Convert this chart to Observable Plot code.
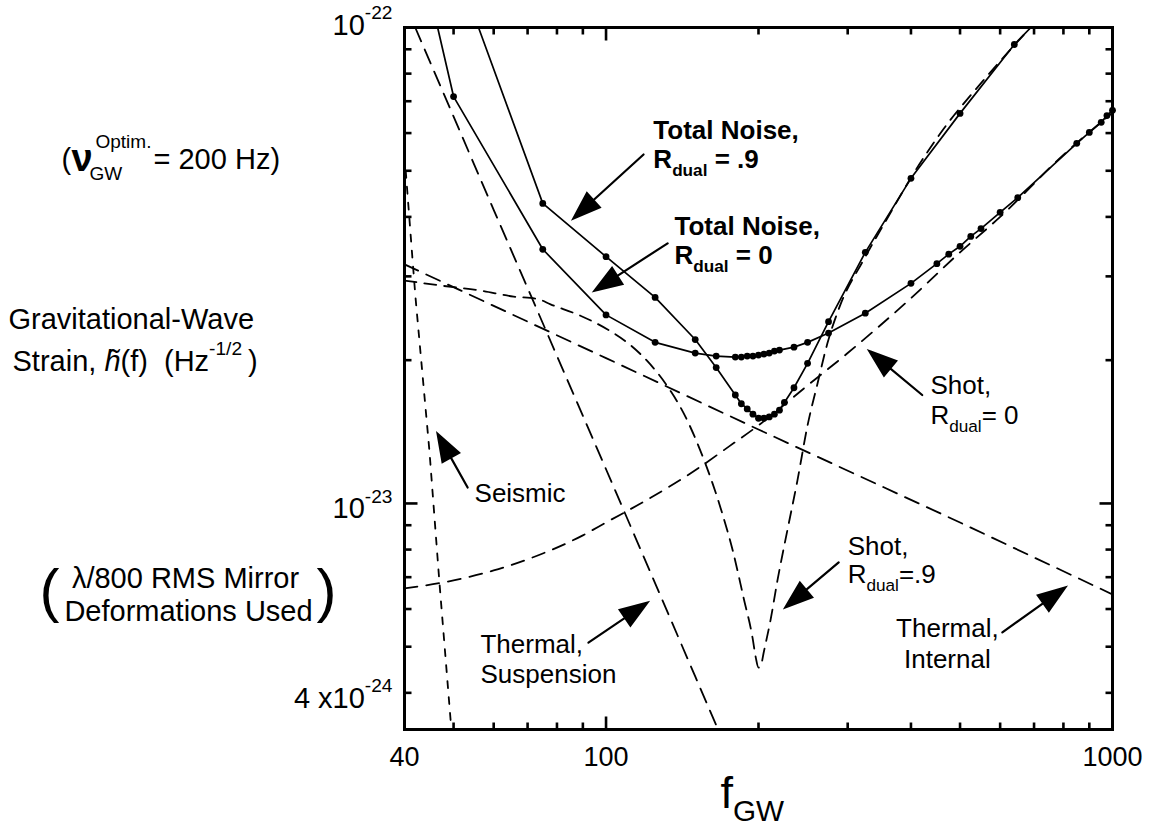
<!DOCTYPE html>
<html><head><meta charset="utf-8">
<script src="https://cdn.jsdelivr.net/npm/d3@7"></script>
<script src="https://cdn.jsdelivr.net/npm/@observablehq/plot@0.6"></script>
<style>html,body{margin:0;padding:0;background:#fff;}</style>
</head><body>
<div id="chart"></div>
<script>
// ---------------- data (frequency in Hz, strain in Hz^-1/2) ----------------
const totalR9Freq   = [56, 75, 100, 125, 150, 165, 180, 185, 190, 195, 200, 205, 210, 215, 220, 225, 235, 250, 275, 325, 400, 500, 640, 690];
const totalR9Strain = [1.0e-22, 4.27e-23, 3.30e-23, 2.71e-23, 2.21e-23, 1.93e-23, 1.69e-23, 1.62e-23, 1.58e-23, 1.54e-23, 1.51e-23, 1.51e-23, 1.52e-23, 1.54e-23, 1.57e-23, 1.63e-23, 1.75e-23, 1.97e-23, 2.41e-23, 3.37e-23, 4.82e-23, 6.60e-23, 9.21e-23, 1.0e-22];

const totalR0Freq   = [46.5, 50, 75, 100, 125, 150, 165, 180, 185, 190, 195, 200, 205, 210, 215, 220, 235, 250, 275, 325, 400, 450, 475, 500, 525, 550, 600, 650, 850, 900, 950, 975, 1000];
const totalR0Strain = [1.0e-22, 7.16e-23, 3.42e-23, 2.49e-23, 2.18e-23, 2.07e-23, 2.04e-23, 2.03e-23, 2.03e-23, 2.04e-23, 2.04e-23, 2.05e-23, 2.06e-23, 2.07e-23, 2.09e-23, 2.10e-23, 2.13e-23, 2.18e-23, 2.28e-23, 2.51e-23, 2.90e-23, 3.19e-23, 3.34e-23, 3.47e-23, 3.64e-23, 3.78e-23, 4.09e-23, 4.39e-23, 5.71e-23, 6.02e-23, 6.32e-23, 6.53e-23, 6.70e-23];

const shotR0Freq   = [40, 50, 60, 75, 90, 100, 120, 150, 175, 200, 250, 300, 400, 500, 600, 800, 1000];
const shotR0Strain = [6.63e-24, 6.89e-24, 7.23e-24, 7.85e-24, 8.57e-24, 9.12e-24, 1.015e-23, 1.174e-23, 1.318e-23, 1.459e-23, 1.77e-23, 2.07e-23, 2.70e-23, 3.37e-23, 4.00e-23, 5.40e-23, 6.62e-23];

const shotR9Freq   = [40, 47.1, 56.5, 65.7, 73.2, 77.7, 89, 100.7, 111.8, 120.7, 132.3, 142.2, 153.6, 168.2, 178.5, 186.8, 194.6, 197.5, 200, 202.5, 204.6, 211.2, 218, 228, 238.7, 250, 261, 273.6, 290, 322, 364, 404.5, 457, 556, 689];
const shotR9Strain = [2.94e-23, 2.87e-23, 2.80e-23, 2.72e-23, 2.69e-23, 2.62e-23, 2.48e-23, 2.32e-23, 2.15e-23, 1.99e-23, 1.76e-23, 1.55e-23, 1.29e-23, 9.81e-24, 7.85e-24, 6.35e-24, 5.23e-24, 4.75e-24, 4.52e-24, 4.59e-24, 4.84e-24, 5.68e-24, 6.89e-24, 8.77e-24, 1.117e-23, 1.46e-23, 1.77e-23, 2.17e-23, 2.61e-23, 3.24e-23, 4.07e-23, 4.93e-23, 5.99e-23, 7.74e-23, 1.0e-22];

const internalFreq   = [40, 100, 200, 500, 1000];
const internalStrain = [3.18e-23, 2.02e-23, 1.43e-23, 9.12e-24, 6.44e-24];

const suspensionFreq   = [42, 60, 100, 150, 166];
const suspensionStrain = [1.0e-22, 4.14e-23, 1.18e-23, 4.33e-24, 3.37e-24];

const seismicFreq   = [40, 41.5, 42.05, 44.8, 46.9, 49.5];
const seismicStrain = [5.4e-23, 3.24e-23, 2.71e-23, 1.29e-23, 6.79e-24, 3.35e-24];

// axis ticks and labels
const xMajorTicks = [100];
const xMinorTicks = [50, 60, 70, 80, 90, 200, 300, 400, 500, 600, 700, 800, 900];
const xTickLabelValues = [40, 100, 1000];
const xTickLabels = ["40", "100", "1000"];
const yMajorTicks = [1e-23];
const yMinorTicks = [4e-24, 5e-24, 6e-24, 7e-24, 8e-24, 9e-24, 2e-23, 3e-23, 4e-23, 5e-23, 6e-23, 7e-23, 8e-23, 9e-23];
const yTickLabelValues = [1e-22, 1e-23, 4e-24];
const yTickLabels = ["10^{-22}", "10^{-23}", "4 x10^{-24}"];

// annotations (text anchored at data coordinates)
const annLines = [
  ["Total Noise,", "R_{dual} = .9"],
  ["Total Noise,", "R_{dual} = 0"],
  ["Shot,", "R_{dual}= 0"],
  ["Shot,", "R_{dual}=.9"],
  ["Thermal,", "Internal"],
  ["Thermal,", "Suspension"],
  ["Seismic"]
];
const annFreq   = [124, 136.5, 437, 300, 472, 56.5, 55.0];
const annStrain = [5.82e-23, 3.66e-23, 1.70e-23, 7.78e-24, 5.23e-24, 4.84e-24, 1.005e-23];

// arrows: tail -> tip
const arrowTailFreq   = [118.6, 132.3, 421, 288, 606, 92.3, 53.3];
const arrowTailStrain = [5.41e-23, 3.52e-23, 1.69e-23, 7.52e-24, 5.36e-24, 5.10e-24, 1.08e-23];
const arrowTipFreq    = [86.2, 94.9, 331, 226, 807, 120.7, 46.5];
const arrowTipStrain  = [3.97e-23, 2.80e-23, 2.09e-23, 6.05e-24, 6.66e-24, 6.19e-24, 1.40e-23];

// ---------------- layout ----------------
const W = 1151, H = 825;
const mL = 404, mR = 39, mT = 27, mB = 96;
const xDomain = [40, 1000], yDomain = [3.35e-24, 1e-22];
const FONT = "'Liberation Sans', Arial, Helvetica, sans-serif";

const rows = (F, S) => F.map((f, i) => ({f, h: S[i]}));
const sx = Plot.scale({x: {type: "log", domain: xDomain, range: [mL, W - mR]}});
const sy = Plot.scale({y: {type: "log", domain: yDomain, range: [H - mB, mT]}});

const tickShape = {draw(ctx, l) { ctx.moveTo(0, 0); ctx.lineTo(0, -l); }};
function tickMarks(values, side, len) {
  const rot = {left: 90, right: -90, bottom: 0, top: 180}[side];
  const ch = (side === "left" || side === "right") ? {y: d => d} : {x: d => d};
  return Plot.vector(values, {...ch, frameAnchor: side, length: len, rotate: rot, anchor: "start",
    shape: tickShape, stroke: "black", strokeWidth: 2.6, strokeLinecap: "butt"});
}
const arrowShape = {
  draw(ctx, l) {
    const hl = 27, hw = 9.5;
    ctx.moveTo(0, 0);
    ctx.lineTo(0, -(l - hl + 3));
    ctx.moveTo(0, -l);
    ctx.lineTo(hw, -l + hl);
    ctx.lineTo(-hw, -l + hl);
    ctx.closePath();
  }
};

const dash = (F, S, dasharray, curve = "linear") =>
  Plot.line(rows(F, S), {x: "f", y: "h", stroke: "black", strokeWidth: 1.8, strokeDasharray: dasharray, curve, clip: true});
const solid = (F, S) => [
  Plot.line(rows(F, S), {x: "f", y: "h", stroke: "black", strokeWidth: 1.7, clip: true}),
  Plot.dot(rows(F, S).filter(d => d.h < 1e-22), {x: "f", y: "h", r: 3.4, fill: "black", stroke: "none"})
];

const marks = [
  dash(suspensionFreq, suspensionStrain, "15,9"),
  dash(internalFreq, internalStrain, "15,9"),
  dash(seismicFreq, seismicStrain, "7,9"),
  dash(shotR0Freq, shotR0Strain, "13,9", "monotone-x"),
  dash(shotR9Freq, shotR9Strain, "12,8", "monotone-x"),
  ...solid(totalR0Freq, totalR0Strain),
  ...solid(totalR9Freq, totalR9Strain),
  Plot.frame({stroke: "black", strokeWidth: 3}),
  tickMarks(yMajorTicks, "left", 13), tickMarks(yMinorTicks, "left", 7),
  tickMarks(yMajorTicks, "right", 13), tickMarks(yMinorTicks, "right", 7),
  tickMarks(xMajorTicks, "bottom", 13), tickMarks(xMinorTicks, "bottom", 7),
  tickMarks(xMajorTicks, "top", 13), tickMarks(xMinorTicks, "top", 7),
  // tick labels
  Plot.text(xTickLabelValues.map((v, i) => ({v, t: xTickLabels[i]})), {x: "v", text: "t", frameAnchor: "bottom",
    dy: 36, lineAnchor: "bottom", textAnchor: "middle", fontSize: 27}),
  Plot.text(yTickLabelValues.map((v, i) => ({v, t: yTickLabels[i]})).slice(1), {y: "v", text: "t", frameAnchor: "left",
    dx: -12, dy: 15, lineAnchor: "bottom", textAnchor: "end", fontSize: 29}),
  Plot.text(yTickLabelValues.map((v, i) => ({v, t: yTickLabels[i]})).slice(0, 1), {y: "v", text: "t", frameAnchor: "left",
    dx: -12, dy: 7, lineAnchor: "bottom", textAnchor: "end", fontSize: 29}),
  // x axis title
  Plot.text(["f_{GW}"], {frameAnchor: "bottom-left", dx: 316, dy: 78, lineAnchor: "bottom", textAnchor: "start", fontSize: 45}),
  // left-margin labels
  Plot.text(["("], {frameAnchor: "top-left", dx: -343, dy: 141, lineAnchor: "bottom", textAnchor: "start", fontSize: 29}),
  Plot.text(["ν"], {frameAnchor: "top-left", dx: -333, dy: 143, lineAnchor: "bottom", textAnchor: "start", fontSize: 38, fontWeight: "bold"}),
  Plot.text(["GW"], {frameAnchor: "top-left", dx: -315, dy: 152, lineAnchor: "bottom", textAnchor: "start", fontSize: 19}),
  Plot.text(["Optim."], {frameAnchor: "top-left", dx: -309, dy: 120, lineAnchor: "bottom", textAnchor: "start", fontSize: 19}),
  Plot.text(["= 200 Hz)"], {frameAnchor: "top-left", dx: -251, dy: 141, lineAnchor: "bottom", textAnchor: "start", fontSize: 29}),
  Plot.text(["Gravitational-Wave"], {frameAnchor: "top-left", dx: -396, dy: 301, lineAnchor: "bottom", textAnchor: "start", fontSize: 29}),
  Plot.text(["Strain, %{h\u0303}(f)\u00A0\u00A0(Hz^{-1/2}\u2009)"], {frameAnchor: "top-left", dx: -392, dy: 343, lineAnchor: "bottom", textAnchor: "start", fontSize: 29}),
  Plot.text(["λ/800 RMS Mirror"], {frameAnchor: "top-left", dx: -219, dy: 560, lineAnchor: "bottom", textAnchor: "middle", fontSize: 29}),
  Plot.text(["Deformations Used"], {frameAnchor: "top-left", dx: -216, dy: 593, lineAnchor: "bottom", textAnchor: "middle", fontSize: 29}),
  Plot.text(["("], {frameAnchor: "top-left", dx: -355, dy: 583, lineAnchor: "bottom", textAnchor: "middle", fontSize: 60, fontWeight: 300}),
  Plot.text([")"], {frameAnchor: "top-left", dx: -78, dy: 583, lineAnchor: "bottom", textAnchor: "middle", fontSize: 60, fontWeight: 300}),
];

// annotation text
const annGap = [29, 29, 30, 28, 31, 30, 0];
const annStyle = [
  {fontWeight: "bold", fontSize: 26, textAnchor: "start"},
  {fontWeight: "bold", fontSize: 26, textAnchor: "start"},
  {fontSize: 26, textAnchor: "start"},
  {fontSize: 26, textAnchor: "start"},
  {fontSize: 26, textAnchor: "middle"},
  {fontSize: 26, textAnchor: "start"},
  {fontSize: 26, textAnchor: "start"}
];
annLines.forEach((lines, i) => {
  lines.forEach((t, j) => {
    marks.push(Plot.text([{f: annFreq[i], h: annStrain[i], t}], {x: "f", y: "h", text: "t",
      lineAnchor: "bottom", dy: j * annGap[i], ...annStyle[i]}));
  });
});

// arrows
arrowTipFreq.forEach((_, i) => {
  const x0 = sx.apply(arrowTailFreq[i]), y0 = sy.apply(arrowTailStrain[i]);
  const x1 = sx.apply(arrowTipFreq[i]), y1 = sy.apply(arrowTipStrain[i]);
  const len = Math.hypot(x1 - x0, y1 - y0);
  const ang = Math.atan2(x1 - x0, -(y1 - y0)) * 180 / Math.PI;
  marks.push(Plot.vector([{f: arrowTipFreq[i], h: arrowTipStrain[i]}], {x: "f", y: "h", length: len, rotate: ang,
    anchor: "end", shape: arrowShape, fill: "black", stroke: "black", strokeWidth: 2.2, strokeLinejoin: "miter"}));
});

const chart = Plot.plot({
  width: W, height: H,
  marginLeft: mL, marginRight: mR, marginTop: mT, marginBottom: mB,
  x: {type: "log", domain: xDomain, axis: null},
  y: {type: "log", domain: yDomain, axis: null},
  style: {fontFamily: FONT, background: "white", color: "black", overflow: "visible"},
  marks
});
document.getElementById("chart").appendChild(chart);

// rich text: ^{sup}, _{sub}, %{italic}
function richText(root) {
  const NS = "http://www.w3.org/2000/svg";
  root.querySelectorAll("text").forEach(t => {
    const targets = t.children.length ? Array.from(t.querySelectorAll("tspan")) : [t];
    targets.forEach(el => {
      const s = el.textContent;
      if (!/[_^%]\{/.test(s)) return;
      const F = parseFloat(getComputedStyle(el).fontSize);
      el.textContent = "";
      let shift = 0, last = 0, m;
      const re = /([_^%])\{([^}]*)\}/g;
      const add = (txt, kind) => {
        const sp = document.createElementNS(NS, "tspan");
        let target = 0;
        if (kind === "^") { sp.setAttribute("font-size", (F * 0.66) + "px"); target = -F * 0.55; }
        else if (kind === "_") { sp.setAttribute("font-size", (F * 0.66) + "px"); target = F * 0.3; }
        else if (kind === "%") { sp.setAttribute("font-style", "italic"); }
        const d = target - shift;
        if (d) sp.setAttribute("dy", d);
        shift = target;
        sp.textContent = txt;
        el.appendChild(sp);
      };
      while ((m = re.exec(s))) {
        if (m.index > last) add(s.slice(last, m.index), "");
        add(m[2], m[1]);
        last = re.lastIndex;
      }
      if (last < s.length) add(s.slice(last), "");
    });
  });
}
richText(chart);
</script>
</body></html>
